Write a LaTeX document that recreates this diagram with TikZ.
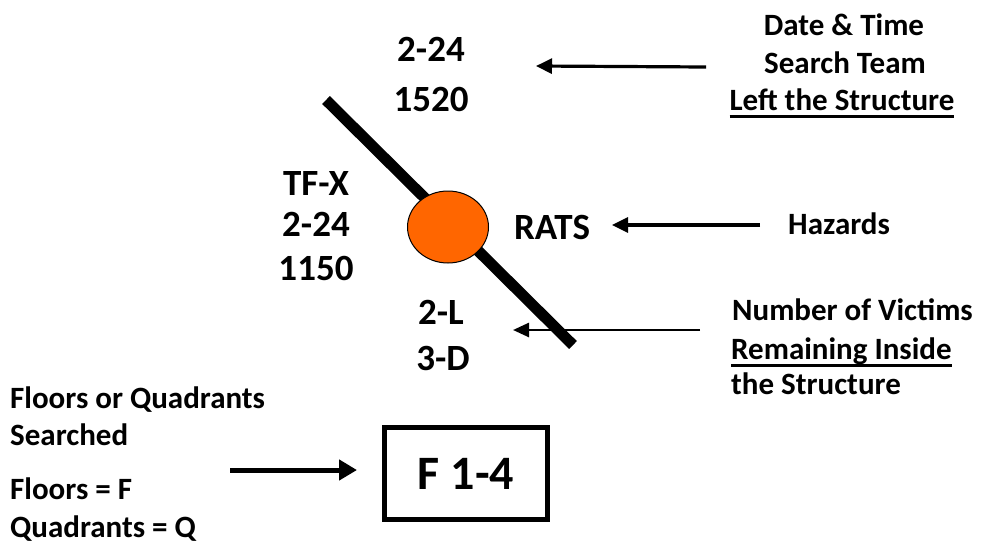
\documentclass[tikz,border=0pt]{standalone}
\usepackage{fontspec}
\setmainfont{Carlito}
\usetikzlibrary{arrows.meta,shapes.geometric}
\definecolor{hazorange}{RGB}{255,102,0}
\newcommand\ulin[1]{\setbox0\hbox{#1}\rlap{\rule[-7.5pt]{\wd0}{3pt}}\box0}
\tikzset{
  big/.style={font=\bfseries\fontsize{37}{44}\selectfont, inner sep=0pt, anchor=base},
  small/.style={font=\bfseries\fontsize{31}{38}\selectfont, inner sep=0pt, anchor=base west},
  smallc/.style={font=\bfseries\fontsize{31}{38}\selectfont, inner sep=0pt, anchor=base},
  pointer/.style={line width=3.2pt, -{Triangle[length=16pt,width=15pt]}},
}
\begin{document}
\begin{tikzpicture}[x=1pt,y=-1pt]
\useasboundingbox[fill=white] (0,0) rectangle (984,557);
% slash marker
\coordinate (s1) at (326,100);
\coordinate (s2) at (573,345);
\draw[line width=11pt] (s1) -- (s2);
\node[draw=black, line width=1pt, fill=hazorange, ellipse, minimum width=81pt, minimum height=72pt, inner sep=0pt] (haz) at (448,227) {};
% centre texts
\node[big] (d1) at (431,61) {2-24};
\node[big] (t1) at (431,111) {1520};
\node[big] (tf) at (316,195) {TF-X};
\node[big] (d2) at (316,236) {2-24};
\node[big] (t2) at (316,280) {1150};
\node[big] (rats) at (552,239) {RATS};
\node[big] (live) at (441,324) {2-L};
\node[big] (dead) at (443,370) {3-D};
% box
\node[draw, line width=5pt, minimum width=163pt, minimum height=92pt, inner sep=0pt,
      font=\bfseries\fontsize{48}{56}\selectfont] (fl) at (466,473.5) {F 1-4};
% right labels
\node[smallc] (r1) at (844,35) {Date \& Time};
\node[smallc] (r2) at (845,73) {Search Team};
\node[smallc] (r3) at (842,110) {\ulin{Left the Structure}};
\node[small] (hz) at (788,234) {Hazards};
\node[small] (v1) at (732,320) {Number of Victims};
\node[small] (v2) at (731,359) {\ulin{Remaining Inside}};
\node[small] (v3) at (731,394) {the Structure};
% left labels
\node[small] (l1) at (10,408) {Floors or Quadrants};
\node[small] (l2) at (10,445) {Searched};
\node[small] (l3) at (10,499) {Floors = F};
\node[small] (l4) at (10,537) {Quadrants = Q};
% arrows
\coordinate (a1s) at (706,67);
\coordinate (a1e) at (536,66);
\draw[pointer] (a1s) -- (a1e);
\coordinate (a2s) at (760,225);
\coordinate (a2e) at (612,225);
\draw[pointer] (a2s) -- (a2e);
\coordinate (a3s) at (700,330);
\coordinate (a3e) at (513,330);
\draw[line width=2.6pt, -{Triangle[length=16pt,width=14pt]}] (a3s) -- (a3e);
\coordinate (a4s) at (230,470);
\coordinate (a4e) at (357,470);
\draw[line width=5pt, -{Triangle[length=18pt,width=20pt]}] (a4s) -- (a4e);
\end{tikzpicture}
\end{document}
